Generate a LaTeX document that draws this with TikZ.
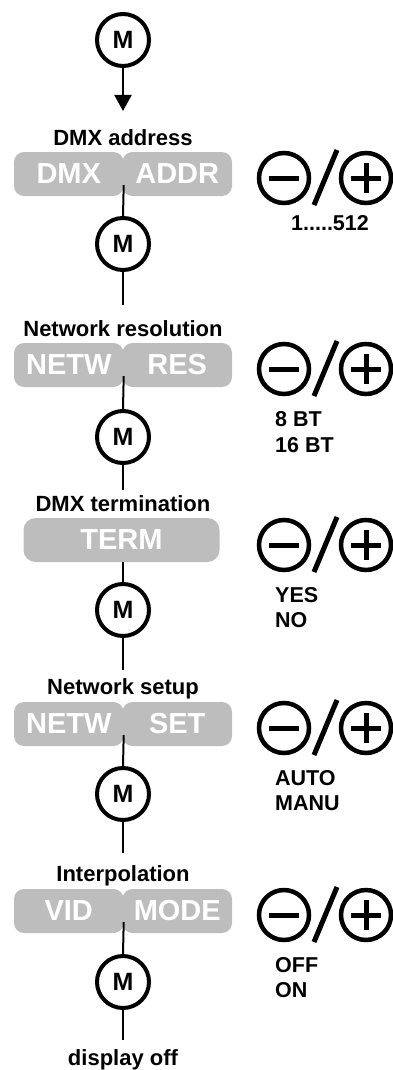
\documentclass[tikz,border=0pt]{standalone}
\usepackage{fontspec}
\setmainfont{Liberation Sans}
\usetikzlibrary{arrows.meta}
\definecolor{keygray}{RGB}{189,189,189}

\tikzset{
  menu/.style={circle, draw=black, line width=4pt, minimum size=52pt, inner sep=0pt,
    font=\fontsize{25}{25}\selectfont\bfseries},
  caption/.style={anchor=base, inner sep=0pt, font=\fontsize{22}{22}\selectfont\bfseries},
  value/.style={anchor=base west, inner sep=0pt, font=\fontsize{21.5}{21.5}\selectfont\bfseries},
  halfkey/.style={fill=keygray, rounded corners=10pt, inner sep=0pt,
    minimum width=109.5pt, minimum height=44pt, text=white,
    font=\fontsize{29}{29}\selectfont\bfseries},
  wire/.style={line width=2pt},
  pmkeys/.pic={
    \draw[line width=4.5pt] (-41,0) circle[radius=25] (41,0) circle[radius=25];
    \draw[line width=5pt] (-56,0) -- (-26,0);
    \draw[line width=5pt] (26,0) -- (56,0) (41,-15) -- (41,15);
    \draw[line width=5pt] (-11,27) -- (12,-28);
  },
}

\begin{document}
\begin{tikzpicture}[x=1pt,y=-1pt]
\useasboundingbox (0,0) rectangle (393,1070);

% entry key
\node[menu] (m0) at (123,40) {M};
\coordinate (a0) at (123,111);
\draw[wire, -{Triangle[length=16pt,width=17pt]}] (m0.south) -- (a0);

% DMX address
\node[caption] (c1) at (123,145) {DMX address};
\node[halfkey] (l1) at (68.75,174) {DMX};
\node[halfkey] (r1) at (177.25,174) {ADDR};
\pic at (325,178) {pmkeys};
\node[anchor=base, inner sep=0pt, font=\fontsize{21.5}{21.5}\selectfont\bfseries] (v1) at (330,230) {1.....512};
\node[menu] (m1) at (123,244) {M};
\coordinate (e1) at (123,305);
\draw[wire] ([yshift=11pt]l1.south east) -- (m1.north);
\draw[wire] (m1.south) -- (e1);

% Network resolution
\node[caption] (c2) at (123,336) {Network resolution};
\node[halfkey] (l2) at (68.75,365) {NETW};
\node[halfkey] (r2) at (177.25,365) {RES};
\pic at (325,369) {pmkeys};
\node[value] (v2a) at (275,426) {8 BT};
\node[value] (v2b) at (275,452) {16 BT};
\node[menu] (m2) at (123,437) {M};
\coordinate (e2) at (123,490);
\draw[wire] ([yshift=11pt]l2.south east) -- (m2.north);
\draw[wire] (m2.south) -- (e2);

% DMX termination
\node[caption] (c3) at (123,511) {DMX termination};
\node[halfkey, minimum width=196pt, rounded corners=12pt] (t3) at (121.5,540) {TERM};
\pic at (325,545) {pmkeys};
\node[value] (v3a) at (275,602) {YES};
\node[value] (v3b) at (275,627) {NO};
\node[menu] (m3) at (123,610) {M};
\coordinate (e3) at (123,670);
\draw[wire] (m3 |- t3.south) -- (m3.north);
\draw[wire] (m3.south) -- (e3);

% Network setup
\node[caption] (c4) at (123,694) {Network setup};
\node[halfkey] (l4) at (68.75,724) {NETW};
\node[halfkey] (r4) at (177.25,724) {SET};
\pic at (325,728) {pmkeys};
\node[value] (v4a) at (275,785) {AUTO};
\node[value] (v4b) at (275,810) {MANU};
\node[menu] (m4) at (123,794) {M};
\coordinate (e4) at (123,853);
\draw[wire] ([yshift=11pt]l4.south east) -- (m4.north);
\draw[wire] (m4.south) -- (e4);

% Interpolation
\node[caption] (c5) at (123,881) {Interpolation};
\node[halfkey] (l5) at (68.75,911) {VID};
\node[halfkey] (r5) at (177.25,911) {MODE};
\pic at (325,915) {pmkeys};
\node[value] (v5a) at (275,972) {OFF};
\node[value] (v5b) at (275,997) {ON};
\node[menu] (m5) at (123,982) {M};
\coordinate (e5) at (123,1040);
\draw[wire] ([yshift=11pt]l5.south east) -- (m5.north);
\draw[wire] (m5.south) -- (e5);

% exit
\node[caption] (c6) at (123,1065) {display off};
\end{tikzpicture}
\end{document}
